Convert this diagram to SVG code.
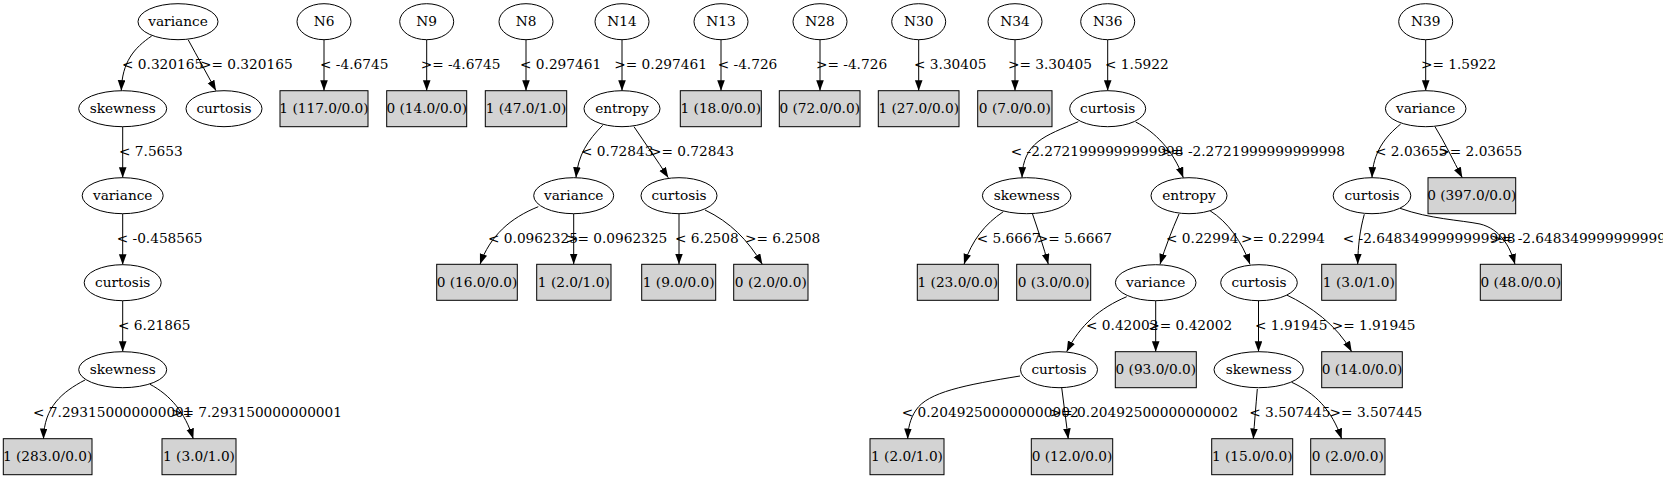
<svg xmlns="http://www.w3.org/2000/svg" width="1663" height="479" viewBox="0 0 1663 479">
<defs>
<marker id="ah" markerUnits="userSpaceOnUse" markerWidth="12" markerHeight="9" refX="10.5" refY="3.8" orient="auto">
<path d="M0,0 L10.5,3.8 L0,7.6 z" fill="#000"/>
</marker>
</defs>
<style>
text{font-family:"DejaVu Serif","Liberation Serif",serif;font-size:13.7px;fill:#000}
.n text{text-anchor:middle}
ellipse{fill:#fff;stroke:#000;stroke-width:1}
rect{fill:#d3d3d3;stroke:#000;stroke-width:1}
#edges path{fill:none;stroke:#000;stroke-width:1;marker-end:url(#ah)}
</style>
<rect x="0" y="0" width="1663" height="479" style="fill:#fff;stroke:none"/>
<g id="edges">
<path d="M151.7,36 C134,48 122,62 121.3,90.7"/>
<path d="M188.3,40 C197,56 207,74 216,90.7"/>
<path d="M122.7,126.7 L122.7,177.7"/>
<path d="M122.7,213.7 L122.7,264.7"/>
<path d="M122.7,300.7 L122.7,351.7"/>
<path d="M85,380 C62,392 44,407 43.5,439"/>
<path d="M150,384.3 C170,395 185,412 193.3,439"/>
<path d="M324,39.7 L324,90.7"/>
<path d="M426.7,39.7 L426.7,90.7"/>
<path d="M526,39.7 L526,90.7"/>
<path d="M622,39.7 L622,90.7"/>
<path d="M721,39.7 L721,90.7"/>
<path d="M820,39.7 L820,90.7"/>
<path d="M918.7,39.7 L918.7,90.7"/>
<path d="M1015,39.7 L1015,90.7"/>
<path d="M1107.7,39.7 L1107.7,90.7"/>
<path d="M1425.7,39.7 L1425.7,90.7"/>
<path d="M602.7,125.3 C588,140 578,155 576,177.7"/>
<path d="M634,126.7 C645,143 657,160 668.3,177.7"/>
<path d="M538.3,206.7 C510,218 490,236 480,264.3"/>
<path d="M573.7,213.7 L573.7,264.3"/>
<path d="M679,213.7 L679,264.3"/>
<path d="M705,210 C730,222 748,240 762.3,264.3"/>
<path d="M1078.3,121.7 C1045,136 1023,142 1022,177.7"/>
<path d="M1135.7,122 C1155,132 1173,150 1183.3,177.7"/>
<path d="M1003.3,211.7 C985,224 972,240 964,264.3"/>
<path d="M1032.3,213.3 C1038,230 1044,248 1048.3,264.3"/>
<path d="M1179,214 C1172,230 1165,248 1160,264.3"/>
<path d="M1210,210.7 C1228,222 1242,242 1250,264.3"/>
<path d="M1126.7,296.7 C1100,308 1080,325 1066.7,351.7"/>
<path d="M1155.7,300.7 L1155.7,351.7"/>
<path d="M1258.5,300.7 L1258.5,351.7"/>
<path d="M1286.7,295 C1310,306 1337,325 1351.7,351.7"/>
<path d="M1020,376 C965,385 928,392 916,410 C910,419 908,428 907.7,439"/>
<path d="M1061.7,387.7 C1064,405 1066,422 1068.3,439"/>
<path d="M1257.3,389 C1256,405 1254.5,422 1253.3,439"/>
<path d="M1291.7,382.3 C1315,393 1332,410 1341.7,439"/>
<path d="M1400.7,124 C1385,137 1373,152 1372,177.7"/>
<path d="M1435,126.7 C1445,143 1453,160 1462.3,177.7"/>
<path d="M1364.3,214.3 C1360,230 1358,245 1357.7,264.3"/>
<path d="M1400,208.3 C1430,219 1460,220 1480,224 C1500,229 1510,246 1515,264.3"/>
</g>
<g id="edge-labels">
<text x="122" y="69.3">&lt; 0.320165</text>
<text x="200" y="69.3">&gt;= 0.320165</text>
<text x="320" y="69.3">&lt; -4.6745</text>
<text x="420.7" y="69.3">&gt;= -4.6745</text>
<text x="520" y="69.3">&lt; 0.297461</text>
<text x="614.3" y="69.3">&gt;= 0.297461</text>
<text x="717.7" y="69.3">&lt; -4.726</text>
<text x="816" y="69.3">&gt;= -4.726</text>
<text x="914" y="69.3">&lt; 3.30405</text>
<text x="1008" y="69.3">&gt;= 3.30405</text>
<text x="1105" y="69.3">&lt; 1.5922</text>
<text x="1421" y="69.3">&gt;= 1.5922</text>
<text x="119" y="156.3">&lt; 7.5653</text>
<text x="581" y="156.3">&lt; 0.72843</text>
<text x="650" y="156.3">&gt;= 0.72843</text>
<text x="1010.7" y="156.3">&lt; -2.2721999999999998</text>
<text x="1160.6" y="156.3">&gt;= -2.2721999999999998</text>
<text x="1375" y="156.3">&lt; 2.03655</text>
<text x="1438.3" y="156.3">&gt;= 2.03655</text>
<text x="116.7" y="243.3">&lt; -0.458565</text>
<text x="488" y="243.3">&lt; 0.0962325</text>
<text x="566" y="243.3">&gt;= 0.0962325</text>
<text x="675" y="243.3">&lt; 6.2508</text>
<text x="745" y="243.3">&gt;= 6.2508</text>
<text x="976.7" y="243.3">&lt; 5.6667</text>
<text x="1036.7" y="243.3">&gt;= 5.6667</text>
<text x="1166" y="243.3">&lt; 0.22994</text>
<text x="1241" y="243.3">&gt;= 0.22994</text>
<text x="1342.7" y="243.3">&lt; -2.6483499999999998</text>
<text x="1490.4" y="243.3">&gt;= -2.6483499999999998</text>
<text x="118" y="330.3">&lt; 6.21865</text>
<text x="1086" y="330.3">&lt; 0.42002</text>
<text x="1148.3" y="330.3">&gt;= 0.42002</text>
<text x="1255" y="330.3">&lt; 1.91945</text>
<text x="1331.7" y="330.3">&gt;= 1.91945</text>
<text x="33" y="417.3">&lt; 7.293150000000001</text>
<text x="171" y="417.3">&gt;= 7.293150000000001</text>
<text x="901.7" y="417.3">&lt; 0.20492500000000002</text>
<text x="1049.8" y="417.3">&gt;= 0.20492500000000002</text>
<text x="1249.3" y="417.3">&lt; 3.507445</text>
<text x="1329.6" y="417.3">&gt;= 3.507445</text>
</g>
<g class="n" id="n_variance0"><ellipse cx="178" cy="21.7" rx="40" ry="18"/><text x="178" y="26.3">variance</text></g>
<g class="n" id="n_skew1"><ellipse cx="122.7" cy="108.7" rx="44" ry="18"/><text x="122.7" y="113.3">skewness</text></g>
<g class="n" id="n_curt1"><ellipse cx="224" cy="108.7" rx="38" ry="18"/><text x="224" y="113.3">curtosis</text></g>
<g class="n" id="n_var2"><ellipse cx="122.7" cy="195.7" rx="40.5" ry="18"/><text x="122.7" y="200.3">variance</text></g>
<g class="n" id="n_curt3"><ellipse cx="122.7" cy="282.7" rx="38.5" ry="18"/><text x="122.7" y="287.3">curtosis</text></g>
<g class="n" id="n_skew4"><ellipse cx="122.7" cy="369.7" rx="44" ry="18"/><text x="122.7" y="374.3">skewness</text></g>
<g class="n" id="l_283"><rect x="3.3" y="438.7" width="88.7" height="36"/><text x="47.6" y="461.3">1 (283.0/0.0)</text></g>
<g class="n" id="l_3_1a"><rect x="162" y="438.7" width="74" height="36"/><text x="199" y="461.3">1 (3.0/1.0)</text></g>
<g class="n" id="N6"><ellipse cx="324" cy="21.7" rx="27" ry="18"/><text x="324" y="26.3">N6</text></g>
<g class="n" id="l_117"><rect x="280" y="90.7" width="88" height="36"/><text x="324" y="113.3">1 (117.0/0.0)</text></g>
<g class="n" id="N9"><ellipse cx="426.7" cy="21.7" rx="27" ry="18"/><text x="426.7" y="26.3">N9</text></g>
<g class="n" id="l_14a"><rect x="386.7" y="90.7" width="80" height="36"/><text x="426.7" y="113.3">0 (14.0/0.0)</text></g>
<g class="n" id="N8"><ellipse cx="526" cy="21.7" rx="27" ry="18"/><text x="526" y="26.3">N8</text></g>
<g class="n" id="l_47"><rect x="485.3" y="90.7" width="81.4" height="36"/><text x="526" y="113.3">1 (47.0/1.0)</text></g>
<g class="n" id="N14"><ellipse cx="622" cy="21.7" rx="27" ry="18"/><text x="622" y="26.3">N14</text></g>
<g class="n" id="n_ent1"><ellipse cx="622" cy="108.7" rx="38" ry="18"/><text x="622" y="113.3">entropy</text></g>
<g class="n" id="n_var2b"><ellipse cx="573.7" cy="195.7" rx="40" ry="18"/><text x="573.7" y="200.3">variance</text></g>
<g class="n" id="n_curt2b"><ellipse cx="679" cy="195.7" rx="38" ry="18"/><text x="679" y="200.3">curtosis</text></g>
<g class="n" id="l_16"><rect x="436.7" y="264.3" width="80.6" height="36"/><text x="477" y="287">0 (16.0/0.0)</text></g>
<g class="n" id="l_2_1"><rect x="536.7" y="264.3" width="74.3" height="36"/><text x="573.8" y="287">1 (2.0/1.0)</text></g>
<g class="n" id="l_9"><rect x="641.7" y="264.3" width="74" height="36"/><text x="678.7" y="287">1 (9.0/0.0)</text></g>
<g class="n" id="l_2_0a"><rect x="733.7" y="264.3" width="74.3" height="36"/><text x="770.8" y="287">0 (2.0/0.0)</text></g>
<g class="n" id="N13"><ellipse cx="721" cy="21.7" rx="27" ry="18"/><text x="721" y="26.3">N13</text></g>
<g class="n" id="l_18"><rect x="680.3" y="90.7" width="81" height="36"/><text x="720.8" y="113.3">1 (18.0/0.0)</text></g>
<g class="n" id="N28"><ellipse cx="820" cy="21.7" rx="27" ry="18"/><text x="820" y="26.3">N28</text></g>
<g class="n" id="l_72"><rect x="779.3" y="90.7" width="80.7" height="36"/><text x="819.7" y="113.3">0 (72.0/0.0)</text></g>
<g class="n" id="N30"><ellipse cx="918.7" cy="21.7" rx="27" ry="18"/><text x="918.7" y="26.3">N30</text></g>
<g class="n" id="l_27"><rect x="878.3" y="90.7" width="80.7" height="36"/><text x="918.7" y="113.3">1 (27.0/0.0)</text></g>
<g class="n" id="N34"><ellipse cx="1015" cy="21.7" rx="27" ry="18"/><text x="1015" y="26.3">N34</text></g>
<g class="n" id="l_7"><rect x="977.7" y="90.7" width="74.3" height="36"/><text x="1014.8" y="113.3">0 (7.0/0.0)</text></g>
<g class="n" id="N36"><ellipse cx="1107.7" cy="21.7" rx="27" ry="18"/><text x="1107.7" y="26.3">N36</text></g>
<g class="n" id="n_curt1c"><ellipse cx="1107.7" cy="108.7" rx="38" ry="18"/><text x="1107.7" y="113.3">curtosis</text></g>
<g class="n" id="n_skew2c"><ellipse cx="1026.7" cy="195.7" rx="44.3" ry="18"/><text x="1026.7" y="200.3">skewness</text></g>
<g class="n" id="n_ent2c"><ellipse cx="1189" cy="195.7" rx="38" ry="18"/><text x="1189" y="200.3">entropy</text></g>
<g class="n" id="l_23"><rect x="917.3" y="264.3" width="81" height="36"/><text x="957.8" y="287">1 (23.0/0.0)</text></g>
<g class="n" id="l_3_0"><rect x="1016.7" y="264.3" width="74" height="36"/><text x="1053.7" y="287">0 (3.0/0.0)</text></g>
<g class="n" id="n_var3c"><ellipse cx="1155.7" cy="282.7" rx="40.3" ry="18"/><text x="1155.7" y="287.3">variance</text></g>
<g class="n" id="n_curt3c"><ellipse cx="1259" cy="282.7" rx="38.3" ry="18"/><text x="1259" y="287.3">curtosis</text></g>
<g class="n" id="n_curt4c"><ellipse cx="1059" cy="369.7" rx="38.5" ry="18"/><text x="1059" y="374.3">curtosis</text></g>
<g class="n" id="l_93"><rect x="1115.3" y="351.7" width="81" height="36"/><text x="1155.8" y="374.3">0 (93.0/0.0)</text></g>
<g class="n" id="n_skew4c"><ellipse cx="1258.7" cy="369.7" rx="44.7" ry="18"/><text x="1258.7" y="374.3">skewness</text></g>
<g class="n" id="l_14b"><rect x="1321.7" y="351.7" width="80.6" height="36"/><text x="1362" y="374.3">0 (14.0/0.0)</text></g>
<g class="n" id="l_2_1b"><rect x="870" y="438.7" width="74" height="36"/><text x="907" y="461.3">1 (2.0/1.0)</text></g>
<g class="n" id="l_12"><rect x="1031.3" y="438.7" width="81.4" height="36"/><text x="1072" y="461.3">0 (12.0/0.0)</text></g>
<g class="n" id="l_15"><rect x="1211.7" y="438.7" width="81" height="36"/><text x="1252.2" y="461.3">1 (15.0/0.0)</text></g>
<g class="n" id="l_2_0b"><rect x="1310.7" y="438.7" width="74.3" height="36"/><text x="1347.8" y="461.3">0 (2.0/0.0)</text></g>
<g class="n" id="N39"><ellipse cx="1425.7" cy="21.7" rx="27" ry="18"/><text x="1425.7" y="26.3">N39</text></g>
<g class="n" id="n_var1d"><ellipse cx="1425.7" cy="108.7" rx="40.3" ry="18"/><text x="1425.7" y="113.3">variance</text></g>
<g class="n" id="n_curt2d"><ellipse cx="1372" cy="195.7" rx="38.8" ry="18"/><text x="1372" y="200.3">curtosis</text></g>
<g class="n" id="l_397"><rect x="1428" y="177.7" width="87.7" height="36"/><text x="1471.8" y="200.3">0 (397.0/0.0)</text></g>
<g class="n" id="l_3_1d"><rect x="1321.7" y="264.3" width="74.3" height="36"/><text x="1358.8" y="287">1 (3.0/1.0)</text></g>
<g class="n" id="l_48"><rect x="1480.3" y="264.3" width="81" height="36"/><text x="1520.8" y="287">0 (48.0/0.0)</text></g>
</svg>
